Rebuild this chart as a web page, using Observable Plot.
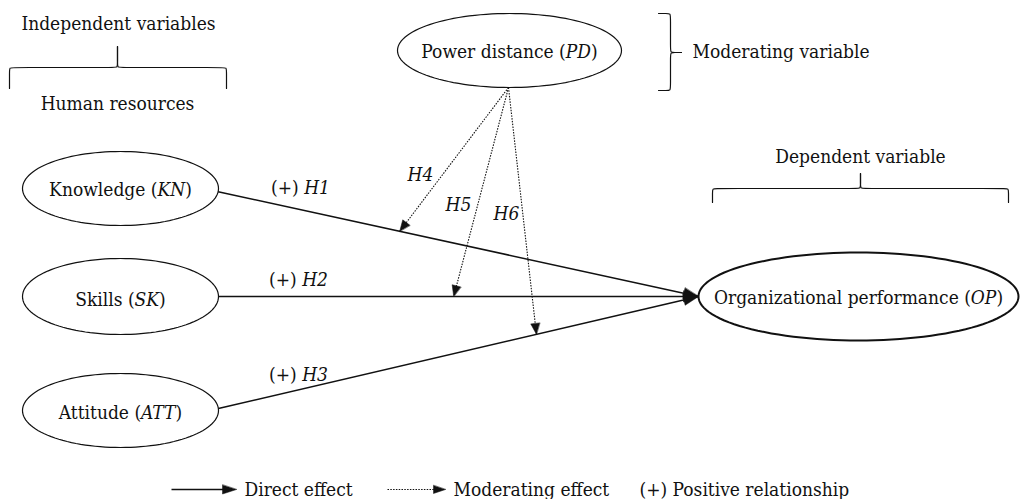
<!DOCTYPE html>
<html><head><meta charset="utf-8">
<script src="https://cdn.jsdelivr.net/npm/d3@7"></script>
<script src="https://cdn.jsdelivr.net/npm/@observablehq/plot@0.6"></script>
<style>body{margin:0;background:#fff} svg text{font-stretch:condensed}</style>
</head><body><div id="chart"></div>
<script>
// ---- content ----
const nodeLabels = ["Knowledge (*KN*)", "Skills (*SK*)", "Attitude (*ATT*)", "Power distance (*PD*)", "Organizational performance (*OP*)"];
const directSources = [0, 1, 2];
const directTarget = 4;
const directLabels = ["(+) *H1*", "(+) *H2*", "(+) *H3*"];
const moderator = 3;
const moderatedEdges = [0, 1, 2];
const moderatedAt = [0.378, 0.49, 0.6625];
const moderationLabels = ["*H4*", "*H5*", "*H6*"];
const groupLabels = ["Independent variables", "Human resources", "Dependent variable", "Moderating variable"];
const legendLabels = ["Direct effect", "Moderating effect", "(+) Positive relationship"];

// ---- layout (pixels) ----
const nodeCX = [120, 120, 120, 509, 858];
const nodeCY = [188, 296, 410, 50, 296];
const nodeRX = [98, 98, 98, 112, 160];
const nodeRY = [37, 38, 37, 37, 44];
const nodeStroke = [1.2, 1.2, 1.2, 1.2, 2];
const nodeTextY = [195, 305, 418, 57, 303];
const startAngle = [5, 0, -3];
const modOrigin = [508, 87];
const directLabelX = [300, 298, 298], directLabelY = [193, 285, 380];
const modLabelX = [420, 458, 506], modLabelY = [180, 210, 219];
const groupX = [118, 117, 860, 692], groupY = [29, 109, 162, 57];
const legendY = 489, legendTextY = 495;
const legendFrom = [171, 387], legendTip = [236, 445], legendTextX = [244, 453, 639];

const bracesH = [
  {x0: 9, x1: 226, yh: 67, yEnd: 88, xm: 117, yTip: 46},
  {x0: 712, x1: 1008, yh: 188, yEnd: 202, xm: 860, yTip: 173}
];
const bracesV = [{y0: 13, y1: 90, xv: 670, xEnd: 658, ym: 52, xTip: 681}];

// ---- geometry ----
const ellipsePts = [];
nodeLabels.forEach((n, i) => {
  d3.range(0, 360, 3).forEach(a => {
    const r = a * Math.PI / 180;
    ellipsePts.push({id: i, x: nodeCX[i] + nodeRX[i] * Math.cos(r), y: nodeCY[i] + nodeRY[i] * Math.sin(r)});
  });
});

const directEdges = directSources.map((s, i) => {
  const a = startAngle[i] * Math.PI / 180;
  return {
    x1: nodeCX[s] + nodeRX[s] * Math.cos(a), y1: nodeCY[s] + nodeRY[s] * Math.sin(a),
    x2: nodeCX[directTarget] - nodeRX[directTarget], y2: nodeCY[directTarget]
  };
});
const modEdges = moderatedEdges.map((e, i) => {
  const E = directEdges[e], t = moderatedAt[i];
  return {x1: modOrigin[0], y1: modOrigin[1], x2: E.x1 + (E.x2 - E.x1) * t, y2: E.y1 + (E.y2 - E.y1) * t};
});

function head(x1, y1, x2, y2, len, hw, id) {
  const dx = x2 - x1, dy = y2 - y1, d = Math.hypot(dx, dy), ux = dx / d, uy = dy / d;
  const bx = x2 - ux * len, by = y2 - uy * len;
  return [
    {id, x: x2, y: y2},
    {id, x: bx - uy * hw, y: by + ux * hw},
    {id, x: bx + uy * hw, y: by - ux * hw}
  ];
}
const heads = [];
directEdges.forEach((e, i) => heads.push(...head(e.x1, e.y1, e.x2, e.y2, 15, 5.5, "d" + i)));
modEdges.forEach((e, i) => heads.push(...head(e.x1, e.y1, e.x2, e.y2, 11, 4.5, "m" + i)));
heads.push(...head(legendFrom[0], legendY, legendTip[0], legendY, 14, 4.5, "l0"));
heads.push(...head(legendFrom[1], legendY, legendTip[1], legendY, 12, 4, "l1"));

const braceSegs = [];
const r = 4;
bracesH.forEach((b, i) => {
  [[b.x0, 1], [b.x1, -1]].forEach(([xe, s], k) => {
    [[xe, b.yEnd], [xe, b.yh + r], [xe, b.yh], [xe + s * r, b.yh], [b.xm - s * r, b.yh], [b.xm, b.yh], [b.xm, b.yh - r], [b.xm, b.yTip]]
      .forEach(([x, y]) => braceSegs.push({id: `h${i}${k}`, x, y}));
  });
});
bracesV.forEach((b, i) => {
  [[b.y0, 1], [b.y1, -1]].forEach(([ye, s], k) => {
    [[b.xEnd, ye], [b.xv - r, ye], [b.xv, ye], [b.xv, ye + s * r], [b.xv, b.ym - s * r], [b.xv, b.ym], [b.xv + r, b.ym], [b.xTip, b.ym]]
      .forEach(([x, y]) => braceSegs.push({id: `v${i}${k}`, x, y}));
  });
});

const middleTexts = [
  ...nodeLabels.map((t, i) => ({t, x: nodeCX[i], y: nodeTextY[i]})),
  ...directLabels.map((t, i) => ({t, x: directLabelX[i], y: directLabelY[i]})),
  ...moderationLabels.map((t, i) => ({t, x: modLabelX[i], y: modLabelY[i]})),
  ...groupLabels.slice(0, 3).map((t, i) => ({t, x: groupX[i], y: groupY[i]}))
];
const startTexts = [
  {t: groupLabels[3], x: groupX[3], y: groupY[3]},
  ...legendLabels.map((t, i) => ({t, x: legendTextX[i], y: legendTextY}))
];
const solidSegs = [...directEdges, {x1: legendFrom[0], y1: legendY, x2: legendTip[0] - 8, y2: legendY}];
const dottedSegs = [...modEdges, {x1: legendFrom[1], y1: legendY, x2: legendTip[1] - 6, y2: legendY}];

const FS = 19;
const plot = Plot.plot({
  width: 1020, height: 499, margin: 0,
  x: {domain: [0, 1020], range: [0, 1020], axis: null},
  y: {domain: [0, 499], range: [0, 499], axis: null},
  style: {fontFamily: "'DejaVu Serif Condensed', 'DejaVu Serif'", background: "#fff", color: "#111"},
  marks: [
    Plot.link(solidSegs, {x1: "x1", y1: "y1", x2: "x2", y2: "y2", stroke: "#111", strokeWidth: 1.6}),
    Plot.link(dottedSegs, {x1: "x1", y1: "y1", x2: "x2", y2: "y2", stroke: "#111", strokeWidth: 1.1, strokeDasharray: "1.5,1.3"}),
    Plot.line(heads, {x: "x", y: "y", z: "id", curve: "linear-closed", fill: "#111", stroke: "#111", strokeWidth: 0.5}),
    ...[0,1,2,3,4].map(i => Plot.line(ellipsePts.filter(d => d.id === i), {x: "x", y: "y", curve: "linear-closed", fill: "none", stroke: "#111", strokeWidth: nodeStroke[i]})),
    Plot.line(braceSegs, {x: "x", y: "y", z: "id", curve: "basis", stroke: "#111", strokeWidth: 1.2}),
    Plot.text(middleTexts, {x: "x", y: "y", text: "t", textAnchor: "middle", lineAnchor: "bottom", fontSize: FS, fill: "#111"}),
    Plot.text(startTexts, {x: "x", y: "y", text: "t", textAnchor: "start", lineAnchor: "bottom", fontSize: FS, fill: "#111"})
  ]
});
plot.querySelectorAll("text").forEach(el => {
  const s = el.textContent;
  if (!s.includes("*")) return;
  el.textContent = "";
  s.split("*").forEach((part, i) => {
    if (!part) return;
    const ts = document.createElementNS("http://www.w3.org/2000/svg", "tspan");
    if (i % 2) ts.setAttribute("font-style", "italic");
    ts.textContent = part;
    el.appendChild(ts);
  });
});
document.getElementById("chart").appendChild(plot);
</script></body></html>
